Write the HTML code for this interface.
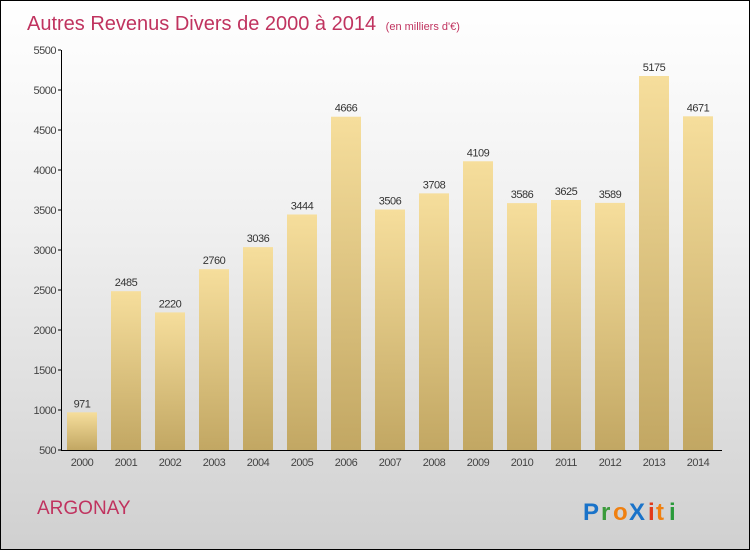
<!DOCTYPE html>
<html><head><meta charset="utf-8"><style>
body{margin:0;}
#wrap{position:relative;width:748px;height:548px;border:1px solid #000;background:linear-gradient(#ffffff,#f0f0f0 40%,#d0d0d0);font-family:"Liberation Sans",sans-serif;overflow:hidden;}
</style></head><body>
<div id="wrap">
<svg id="chart" width="748" height="548" xmlns="http://www.w3.org/2000/svg">
<defs><linearGradient id="bg" x1="0" y1="0" x2="0" y2="1"><stop offset="0" stop-color="#f6de9c"/><stop offset="1" stop-color="#c2a763"/></linearGradient></defs>
<text x="26" y="29" font-size="20" fill="#c0335f">Autres Revenus Divers de 2000 à 2014 <tspan font-size="11" dx="4">(en milliers d'€)</tspan></text>
<text x="36" y="513" font-size="19" fill="#c0335f">ARGONAY</text>
<g font-size="24" font-weight="bold">
<text x="582" y="519" fill="#1a73c9">P</text><text x="600" y="519" fill="#3a9a3a">r</text><text x="612" y="519" fill="#f08010">o</text><text x="628" y="519" fill="#1a73c9">X</text><text x="647" y="519" fill="#e23a1a">i</text><text x="655" y="519" fill="#f08010">t</text><text x="668" y="519" fill="#2a9a3a">i</text>
</g>
<g id="axes"></g><g id="bars"></g>
</svg>
</div>
<script>
const years=["2000","2001","2002","2003","2004","2005","2006","2007","2008","2009","2010","2011","2012","2013","2014"];
const values=[971,2485,2220,2760,3036,3444,4666,3506,3708,4109,3586,3625,3589,5175,4671];
const yTicks=[500,1000,1500,2000,2500,3000,3500,4000,4500,5000,5500];
const NS="http://www.w3.org/2000/svg";
const y=v=>449-(v-500)*0.08;
const x=i=>81+i*44;
function mk(t,a,p,txt){const e=document.createElementNS(NS,t);for(const k in a)e.setAttribute(k,a[k]);if(txt!==undefined)e.textContent=txt;p.appendChild(e);return e;}
const ax=document.getElementById('axes'),bs=document.getElementById('bars');
yTicks.forEach(v=>{
const l=mk('line',{x1:57,x2:60,y1:y(v),y2:y(v),stroke:'#000'},ax);

const t=mk('text',{x:55,y:y(v)+4,'font-size':11,fill:'#444','text-anchor':'end','letter-spacing':'-0.5'},ax,String(v));

});
const ya=mk('line',{x1:60.5,x2:60.5,y1:y(5500),y2:450,stroke:'#000'},ax);
values.forEach((v,i)=>{
const r=mk('rect',{x:x(i)-15,y:y(v),width:30,height:449-y(v),fill:'url(#bg)'},bs);

const t=mk('text',{x:x(i),y:y(v)-5,'font-size':11,fill:'#333','text-anchor':'middle','letter-spacing':'-0.5'},bs,String(v));

const xt=mk('text',{x:x(i),y:465,'font-size':11,fill:'#444','text-anchor':'middle','letter-spacing':'-0.5'},bs,years[i]);

});
const xa=mk('line',{x1:60,x2:721,y1:449.5,y2:449.5,stroke:'#000'},ax);
</script>
</body></html>
